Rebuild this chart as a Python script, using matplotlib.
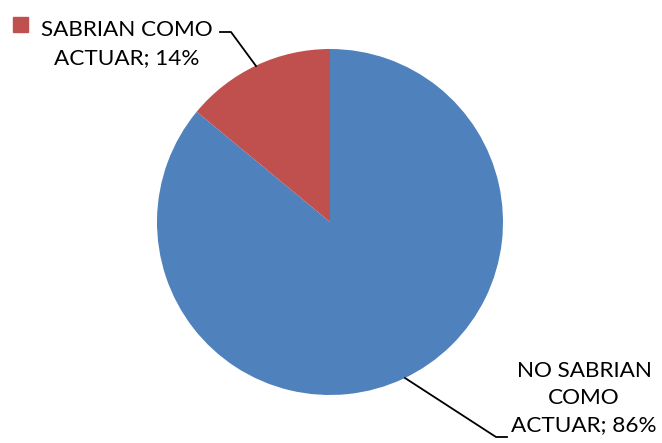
import matplotlib.pyplot as plt
from matplotlib.patches import Rectangle

labels = ['NO SABRIAN\nCOMO\nACTUAR; 86%', 'SABRIAN COMO\nACTUAR; 14%']
values = [86, 14]
colors = ['#4F81BD', '#C0504D']

W, H = 662, 443
fig = plt.figure(figsize=(W / 100, H / 100), dpi=100)
ax = fig.add_axes([0, 0, 1, 1])

# pie drawn in pixel-like coords (y measured from bottom)
ax.pie(values, colors=colors, startangle=90, counterclock=False,
       center=(330, H - 222), radius=173, frame=True,
       wedgeprops={'linewidth': 0})
ax.set_xlim(0, W)
ax.set_ylim(0, H)
ax.set_aspect('equal')
ax.axis('off')

font = dict(family=['Lato', 'DejaVu Sans'], fontsize=16.2, color='black',
            linespacing=1.45)

# red label with legend key
ax.add_patch(Rectangle((13, H - 32), 15, 15, color=colors[1]))
ax.text(127, H - 44, labels[1], ha='center', va='center', **font)
ax.plot([220, 231, 256], [H - 32, H - 32, H - 66], color='black', lw=1.3)

# blue label
ax.text(584, H - 398, labels[0], ha='center', va='center', **font)
ax.plot([405, 496, 507], [H - 378, H - 437, H - 437], color='black', lw=1.3)

fig.savefig('out.png', dpi=100)
